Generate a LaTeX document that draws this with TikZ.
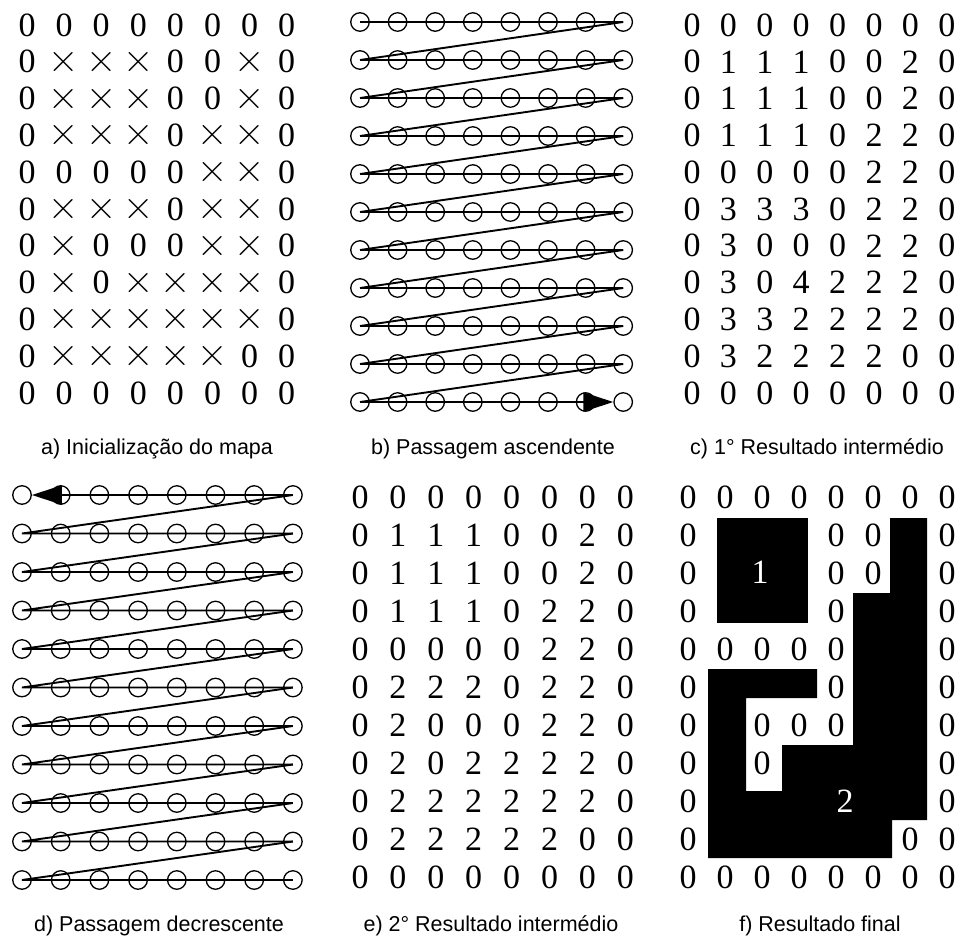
\documentclass[tikz,border=0pt]{standalone}
\usepackage{fontspec}
\setmainfont{Liberation Serif}
\newfontfamily\capfont{Liberation Sans}
\newfontfamily\lmfont{Latin Modern Roman}
\usetikzlibrary{arrows.meta}

\def\crossval{x}
\def\zeroval{0}

\tikzset{
  cell/.style={inner sep=0pt, font=\fontsize{34}{34}\selectfont},
  crossmark/.style={inner sep=0pt, anchor=base, font=\lmfont\fontsize{42}{42}\selectfont},
  ring/.style={circle, draw, line width=1.3pt, minimum size=18.5pt, inner sep=0pt},
  scanline/.style={line width=1.9pt},
  bigtip/.style={-{Triangle[length=30pt,width=19pt]}},
  caption/.style={font=\capfont\fontsize{21.5}{24}\selectfont},
  blob/.style={fill=black, draw=none}
}

\begin{document}
\begin{tikzpicture}[x=1pt, y=-1pt]
    \useasboundingbox (0,0) rectangle (960,950);
    % a) map initialisation
    \foreach \row [count=\r] in {{0,0,0,0,0,0,0,0},{0,x,x,x,0,0,x,0},{0,x,x,x,0,0,x,0},
        {0,x,x,x,0,x,x,0},{0,0,0,0,0,x,x,0},{0,x,x,x,0,x,x,0},{0,x,0,0,0,x,x,0},
        {0,x,0,x,x,x,x,0},{0,x,x,x,x,x,x,0},{0,x,x,x,x,x,0,0},{0,0,0,0,0,0,0,0}}
      \foreach \v [count=\c] in \row {
        \ifx\v\crossval
          \node[crossmark] (a-\r-\c) at ({27+(\c-1)*37.1},{35.5+(\r-1)*36.8}) {×};
        \else
          \node[cell] (a-\r-\c) at ({27+(\c-1)*37.1},{25+(\r-1)*36.8}) {\v};
        \fi
      }
    \node[caption] (capa) at (157,449) {a) Inicialização do mapa};

    % b) ascending pass
    \foreach \r in {1,...,11}
      \foreach \c in {1,...,8}
        \node[ring] (b-\r-\c) at ({360+(\c-1)*37.6},{22+(\r-1)*38}) {};
    \foreach \r in {1,...,10} {
      \pgfmathtruncatemacro\rn{\r+1}
      \draw[scanline] (b-\r-1.center) -- (b-\r-8.center) -- (b-\rn-1.center);
    }
    \draw[scanline, bigtip] (b-11-1.center) -- (b-11-8.west);
    \node[caption] (capb) at (493,449) {b) Passagem ascendente};

    % c) first intermediate result
    \foreach \row [count=\r] in {{0,0,0,0,0,0,0,0},{0,1,1,1,0,0,2,0},{0,1,1,1,0,0,2,0},
        {0,1,1,1,0,2,2,0},{0,0,0,0,0,2,2,0},{0,3,3,3,0,2,2,0},{0,3,0,0,0,2,2,0},
        {0,3,0,4,2,2,2,0},{0,3,3,2,2,2,2,0},{0,3,2,2,2,2,0,0},{0,0,0,0,0,0,0,0}}
      \foreach \v [count=\c] in \row
        \node[cell] (c-\r-\c) at ({692+(\c-1)*36.4},{25+(\r-1)*36.8}) {\v};
    \node[caption] (capc) at (817,449) {c) 1° Resultado intermédio};

    % d) descending pass
    \foreach \r in {1,...,11}
      \foreach \c in {1,...,8}
        \node[ring] (d-\r-\c) at ({22+(\c-1)*38.7},{495+(\r-1)*38.5}) {};
    \foreach \r in {2,...,11} {
      \pgfmathtruncatemacro\rp{\r-1}
      \draw[scanline] (d-\r-8.center) -- (d-\r-1.center) -- (d-\rp-8.center);
    }
    \draw[scanline, bigtip] (d-1-8.center) -- (d-1-1.east);
    \node[caption] (capd) at (159,926) {d) Passagem decrescente};

    % e) second intermediate result
    \foreach \row [count=\r] in {{0,0,0,0,0,0,0,0},{0,1,1,1,0,0,2,0},{0,1,1,1,0,0,2,0},
        {0,1,1,1,0,2,2,0},{0,0,0,0,0,2,2,0},{0,2,2,2,0,2,2,0},{0,2,0,0,0,2,2,0},
        {0,2,0,2,2,2,2,0},{0,2,2,2,2,2,2,0},{0,2,2,2,2,2,0,0},{0,0,0,0,0,0,0,0}}
      \foreach \v [count=\c] in \row
        \node[cell] (e-\r-\c) at ({360+(\c-1)*37.9},{497+(\r-1)*38}) {\v};
    \node[caption] (cape) at (491,926) {e) 2° Resultado intermédio};

    % f) final result
    \fill[blob] (717,518) rectangle (808,623);
    \fill[blob] (708,669) -- (817,669) -- (817,698) -- (746,698) -- (746,791)
        -- (782,791) -- (782,745) -- (853,745) -- (853,593) -- (890,593)
        -- (890,518) -- (927,518) -- (927,820) -- (892,820) -- (892,858)
        -- (708,858) -- cycle;
    \foreach \row [count=\r] in {{0,0,0,0,0,0,0,0},{0,1,1,1,0,0,2,0},{0,1,1,1,0,0,2,0},
        {0,1,1,1,0,2,2,0},{0,0,0,0,0,2,2,0},{0,2,2,2,0,2,2,0},{0,2,0,0,0,2,2,0},
        {0,2,0,2,2,2,2,0},{0,2,2,2,2,2,2,0},{0,2,2,2,2,2,0,0},{0,0,0,0,0,0,0,0}}
      \foreach \v [count=\c] in \row {
        \ifx\v\zeroval
          \node[cell] (f-\r-\c) at ({688+(\c-1)*37},{497+(\r-1)*38}) {0};
        \fi
      }
    \node[cell, text=white] (lab1) at (760,572) {1};
    \node[cell, text=white] (lab2) at (845,801) {2};
    \node[caption] (capf) at (820,926) {f) Resultado final};
\end{tikzpicture}
\end{document}
